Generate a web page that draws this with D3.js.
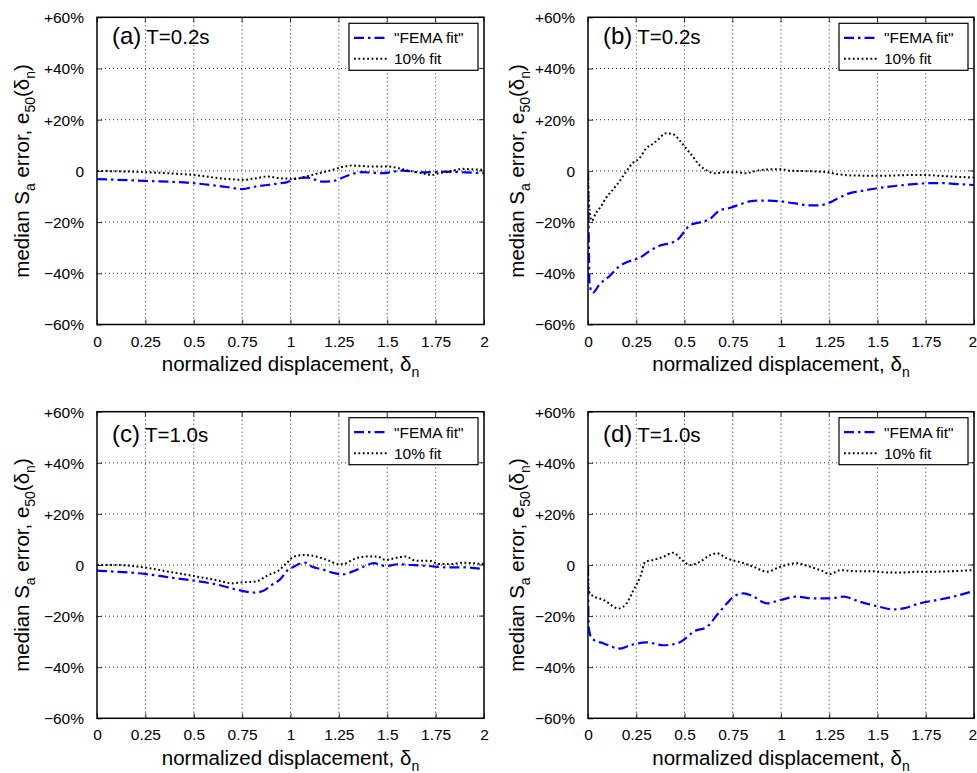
<!DOCTYPE html>
<html><head><meta charset="utf-8">
<script src="https://cdn.jsdelivr.net/npm/d3@7"></script>
<style>
body{margin:0;background:#fff}
svg{display:block}
text{font-family:"Liberation Sans",Arial,Helvetica,sans-serif;fill:#000}
</style>
</head><body>
<svg id="chart" width="977" height="773"></svg>
<script>
// ---------- data ----------
const xTickValues = [0, 0.25, 0.5, 0.75, 1, 1.25, 1.5, 1.75, 2];
const xTickLabels = ["0", "0.25", "0.5", "0.75", "1", "1.25", "1.5", "1.75", "2"];
const yTickValues = [-60, -40, -20, 0, 20, 40, 60];
const yTickLabels = ["\u221260%", "\u221240%", "\u221220%", "0", "+20%", "+40%", "+60%"];
const panelLetters = ["(a)", "(b)", "(c)", "(d)"];
const panelPeriods = ["T=0.2s", "T=0.2s", "T=1.0s", "T=1.0s"];
const seriesNames = ["\"FEMA fit\"", "10% fit"];

// panel (a)
const aFemaX = [0, 0.25, 0.5, 0.68, 0.75, 0.82, 0.88, 0.95, 0.983, 1.017, 1.086, 1.164, 1.224, 1.293, 1.371, 1.474, 1.578, 1.681, 1.80, 1.905, 2.0];
const aFemaY = [-3.2, -3.9, -4.8, -6.4, -7.1, -6.1, -5.5, -4.8, -4.4, -3.1, -2.6, -4.2, -3.9, -1.9, -0.5, -0.9, 0.1, -0.6, -0.3, -0.6, -0.9];
const aTenX = [0, 0.25, 0.5, 0.68, 0.75, 0.82, 0.88, 0.95, 0.983, 1.017, 1.078, 1.147, 1.216, 1.259, 1.319, 1.371, 1.42, 1.51, 1.56, 1.61, 1.68, 1.73, 1.767, 1.836, 1.888, 1.94, 2.0];
const aTenY = [0, -0.5, -1.6, -3.2, -3.5, -2.9, -2.2, -2.9, -3.0, -3.2, -2.2, -0.9, 0.4, 1.4, 2.1, 1.9, 1.7, 1.7, 1.0, 0.1, -0.9, -1.6, -0.9, 0, 0.8, 0.6, 0.4];

// panel (b)
const bFemaX = [0, 0.003, 0.008, 0.024, 0.059, 0.11, 0.162, 0.214, 0.266, 0.318, 0.37, 0.439, 0.473, 0.5, 0.525, 0.56, 0.603, 0.638, 0.68, 0.733, 0.784, 0.836, 0.888, 0.94, 1.0, 1.064, 1.15, 1.193, 1.254, 1.297, 1.357, 1.426, 1.513, 1.6, 1.685, 1.772, 1.84, 1.927, 2.0];
const bFemaY = [0, -20, -44, -47.7, -44.4, -41.2, -37.3, -35.3, -34.0, -31.4, -29.2, -27.9, -26.2, -23.6, -21.4, -20.4, -19.7, -18.4, -15.5, -14.5, -13.2, -11.9, -11.6, -11.6, -11.9, -12.6, -13.5, -13.5, -12.3, -10.6, -8.7, -7.7, -6.6, -5.8, -5.2, -4.8, -4.8, -5.2, -5.5];
const bTenX = [0, 0.004, 0.02, 0.041, 0.067, 0.093, 0.128, 0.162, 0.197, 0.231, 0.266, 0.301, 0.335, 0.361, 0.404, 0.439, 0.473, 0.508, 0.543, 0.577, 0.62, 0.655, 0.715, 0.767, 0.819, 0.87, 0.94, 1.003, 1.046, 1.133, 1.237, 1.297, 1.375, 1.513, 1.685, 1.772, 1.858, 2.0];
const bTenY = [-1, -12, -19.5, -16.5, -13.9, -10.6, -7.4, -4.2, -0.3, 3.0, 4.9, 8.8, 10.5, 12.1, 14.7, 14.4, 12.1, 8.8, 5.6, 2.3, 0, -0.9, -0.5, -0.5, -0.9, 0, 0.6, 0.6, 0.1, -0.1, -0.5, -1.3, -1.8, -1.9, -1.6, -1.7, -2.1, -2.6];

// panel (c)
const cFemaX = [0, 0.093, 0.248, 0.369, 0.5, 0.628, 0.714, 0.748, 0.817, 0.86, 0.903, 0.947, 0.983, 1.017, 1.043, 1.078, 1.112, 1.164, 1.216, 1.267, 1.319, 1.371, 1.431, 1.491, 1.56, 1.629, 1.716, 1.80, 1.888, 2.0];
const cFemaY = [-2.2, -2.6, -3.5, -4.8, -6.1, -7.8, -9.5, -10.1, -10.8, -10.1, -7.8, -5.6, -2.2, -0.7, 0.4, 0.9, -0.7, -1.7, -3.0, -3.7, -2.6, -0.9, 0.7, -0.4, 0.3, 0, -0.4, -0.9, -0.9, -1.6];
const cTenX = [0, 0.1, 0.248, 0.369, 0.5, 0.628, 0.697, 0.748, 0.817, 0.886, 0.938, 0.983, 1.017, 1.069, 1.103, 1.147, 1.198, 1.25, 1.276, 1.319, 1.388, 1.448, 1.491, 1.56, 1.595, 1.647, 1.716, 1.767, 1.836, 1.888, 1.94, 2.0];
const cTenY = [0, 0, -1.0, -2.6, -4.3, -6.1, -7.2, -6.8, -6.5, -3.9, -2.2, 1.0, 3.3, 3.9, 3.8, 3.0, 1.7, 0.3, 0.4, 2.0, 3.3, 3.3, 2.0, 3.0, 3.3, 1.7, 1.7, 0.4, 0.4, 0.9, 0.7, 0.4];

// panel (d)
const dFemaX = [0, 0.003, 0.02, 0.081, 0.167, 0.219, 0.305, 0.392, 0.461, 0.504, 0.547, 0.616, 0.668, 0.72, 0.754, 0.806, 0.858, 0.927, 0.996, 1.082, 1.168, 1.254, 1.323, 1.41, 1.496, 1.582, 1.634, 1.72, 1.807, 1.893, 2.0];
const dFemaY = [0, -24, -28.8, -30.7, -32.7, -31.4, -30.3, -31.4, -30.7, -28.8, -26.1, -24.2, -19.6, -15.0, -12.4, -11.1, -12.4, -15.0, -13.7, -12.4, -13.1, -13.1, -12.4, -14.4, -16.1, -17.4, -17.0, -15.0, -13.7, -12.4, -10.1];
const dTenX = [0, 0.003, 0.02, 0.081, 0.159, 0.2, 0.236, 0.271, 0.297, 0.34, 0.392, 0.443, 0.478, 0.53, 0.581, 0.625, 0.668, 0.72, 0.806, 0.858, 0.927, 0.996, 1.082, 1.134, 1.203, 1.254, 1.306, 1.375, 1.462, 1.548, 1.634, 1.72, 1.807, 1.893, 2.0];
const dTenY = [0, -9.8, -11.8, -13.7, -17.0, -15.0, -9.8, -4.6, 1.3, 2.0, 3.3, 4.8, 2.6, 0, 1.3, 3.5, 4.6, 2.6, 0.7, -0.7, -2.6, -0.7, 0.7, -0.3, -2.0, -3.5, -2.0, -2.4, -2.4, -2.9, -2.9, -2.6, -2.6, -2.4, -2.0];

// ---------- layout (positions/styles only) ----------
const layout = [
  {left: 97,  right: 484, top: 17.3,  bottom: 324.5, ylabX: 29.3,  titleDy: 27, fx: aFemaX, fy: aFemaY, tx: aTenX, ty: aTenY},
  {left: 588, right: 974, top: 17.3,  bottom: 324.5, ylabX: 524,   titleDy: 27, fx: bFemaX, fy: bFemaY, tx: bTenX, ty: bTenY},
  {left: 97,  right: 484, top: 411.7, bottom: 718.3, ylabX: 29.3,  titleDy: 30, fx: cFemaX, fy: cFemaY, tx: cTenX, ty: cTenY},
  {left: 588, right: 974, top: 411.7, bottom: 718.3, ylabX: 524,   titleDy: 30, fx: dFemaX, fy: dFemaY, tx: dTenX, ty: dTenY}
];
const W = 977;
const blueDash = "10,4,2.5,4";
const blackDot = "1.8,2.6";

const svg = d3.select("#chart");
const defs = svg.append("defs");

layout.forEach((p, i) => {
  const x = d3.scaleLinear().domain([0, 2]).range([p.left, p.right]);
  const y = d3.scaleLinear().domain([-60, 60]).range([p.bottom, p.top]);
  const g = svg.append("g");

  defs.append("clipPath").attr("id", "clip" + i)
    .append("rect").attr("x", p.left).attr("y", p.top)
    .attr("width", p.right - p.left).attr("height", p.bottom - p.top);

  // grid
  const grid = g.append("g").attr("stroke", "#111").attr("stroke-width", 0.9).attr("stroke-dasharray", "1,3");
  xTickValues.slice(1, -1).forEach(v => {
    grid.append("line").attr("x1", x(v)).attr("x2", x(v)).attr("y1", p.top).attr("y2", p.bottom);
  });
  yTickValues.slice(1, -1).forEach(v => {
    grid.append("line").attr("x1", p.left).attr("x2", p.right).attr("y1", y(v)).attr("y2", y(v));
  });

  // axes with D3 (labels), inside ticks
  const xAxis = d3.axisBottom(x).tickValues(xTickValues).tickFormat((d, k) => xTickLabels[k]).tickSizeInner(-5).tickSizeOuter(0).tickPadding(11);
  const gx = g.append("g").attr("transform", `translate(0,${p.bottom})`).call(xAxis);
  const yAxis = d3.axisLeft(y).tickValues(yTickValues).tickFormat((d, k) => yTickLabels[k]).tickSizeInner(-5).tickSizeOuter(0).tickPadding(13);
  const gy = g.append("g").attr("transform", `translate(${p.left},0)`).call(yAxis);
  [gx, gy].forEach(a => {
    a.select(".domain").remove();
    a.selectAll("line").attr("stroke", "#000").attr("stroke-width", 0.8);
    a.selectAll("text").attr("font-size", 15.5).attr("fill", "#000")
      .style("font-family", "'Liberation Sans',Arial,Helvetica,sans-serif");
  });
  gy.selectAll("text").attr("dy", "0.35em");
  // keep the last x label inside the page
  gx.selectAll(".tick text").each(function() {
    const b = this.getBBox();
    const tx = x(+d3.select(this.parentNode).datum());
    const over = tx + b.x + b.width - (W - 0.5);
    if (over > 0) d3.select(this).attr("dx", -over);
  });
  // top/right inside ticks
  const gt = g.append("g").attr("stroke", "#000").attr("stroke-width", 0.8);
  xTickValues.forEach(v => gt.append("line").attr("x1", x(v)).attr("x2", x(v)).attr("y1", p.top).attr("y2", p.top + 5));
  yTickValues.forEach(v => gt.append("line").attr("x1", p.right).attr("x2", p.right - 5).attr("y1", y(v)).attr("y2", y(v)));

  // data lines
  const line = d3.line().x(d => x(d[0])).y(d => y(d[1])).curve(d3.curveMonotoneX);
  const lines = g.append("g").attr("clip-path", `url(#clip${i})`);
  lines.append("path").datum(p.fx.map((v, k) => [v, p.fy[k]]))
    .attr("d", line).attr("fill", "none").attr("stroke", "#0000ff")
    .attr("stroke-width", 2.2).attr("stroke-dasharray", blueDash);
  lines.append("path").datum(p.tx.map((v, k) => [v, p.ty[k]]))
    .attr("d", line).attr("fill", "none").attr("stroke", "#000")
    .attr("stroke-width", 2).attr("stroke-dasharray", blackDot);

  // box
  g.append("rect").attr("x", p.left).attr("y", p.top)
    .attr("width", p.right - p.left).attr("height", p.bottom - p.top)
    .attr("fill", "none").attr("stroke", "#000").attr("stroke-width", 1.5);

  // panel title
  const tt = g.append("text").attr("x", p.left + 15).attr("y", p.top + p.titleDy);
  tt.append("tspan").attr("font-size", 24).text(panelLetters[i]);
  tt.append("tspan").attr("font-size", 20.5).attr("dx", 5).text(panelPeriods[i]);

  // legend
  const lx = p.right - 135, ly = p.top + 6;
  const lg = g.append("g");
  lg.append("rect").attr("x", lx).attr("y", ly).attr("width", 129).attr("height", 47)
    .attr("fill", "#fff").attr("stroke", "#000").attr("stroke-width", 1.2);
  [[blueDash, "#0000ff", 2.2], [blackDot, "#000", 2]].forEach((s, k) => {
    const ry = ly + 14.5 + k * 21;
    lg.append("line").attr("x1", lx + 5).attr("x2", lx + 39).attr("y1", ry).attr("y2", ry)
      .attr("stroke", s[1]).attr("stroke-width", s[2]).attr("stroke-dasharray", s[0]);
    lg.append("text").attr("x", lx + 45).attr("y", ry + 5.5).attr("font-size", 15.5).text(seriesNames[k]);
  });

  // x label
  const xl = g.append("text").attr("x", (p.left + p.right) / 2).attr("y", p.bottom + 46.7)
    .attr("text-anchor", "middle").attr("font-size", 20.5);
  xl.append("tspan").text("normalized displacement, \u03b4");
  xl.append("tspan").attr("font-size", 14).attr("dy", 6).text("n");

  // y label
  const yl = g.append("text")
    .attr("transform", `translate(${p.ylabX},${(p.top + p.bottom) / 2}) rotate(-90)`)
    .attr("text-anchor", "middle").attr("font-size", 20.5);
  yl.append("tspan").text("median S");
  yl.append("tspan").attr("font-size", 14).attr("dy", 6).text("a");
  yl.append("tspan").attr("dy", -6).text(" error, e");
  yl.append("tspan").attr("font-size", 14).attr("dy", 6).text("50");
  yl.append("tspan").attr("dy", -6).text("(\u03b4");
  yl.append("tspan").attr("font-size", 14).attr("dy", 6).text("n");
  yl.append("tspan").attr("dy", -6).text(")");
});
</script>
</body></html>
